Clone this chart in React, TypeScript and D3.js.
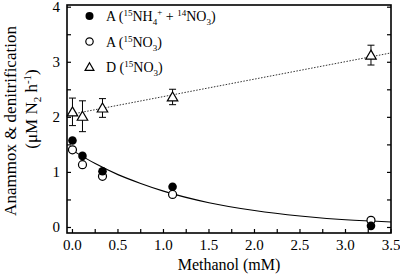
import React from "react";
import * as d3 from "d3";

const methanol = [0, 0.11, 0.33, 1.1, 3.28];
const anammoxNH4 = [1.58, 1.3, 1.02, 0.74, 0.03];
const anammoxNO3 = [1.41, 1.14, 0.93, 0.6, 0.13];
const denitNO3 = [2.1, 2.02, 2.17, 2.37, 3.13];
const denitErr = [0.25, 0.28, 0.17, 0.14, 0.18];

const fitX = [0, 0.25, 0.5, 0.75, 1.0, 1.5, 2.0, 2.5, 3.0, 3.5];
const fitY = [1.4, 1.16, 0.96, 0.8, 0.66, 0.45, 0.31, 0.21, 0.14, 0.1];
const trendX = [0, 3.5];
const trendY = [2.06, 3.17];

const xTicks = [0, 0.5, 1, 1.5, 2, 2.5, 3, 3.5];
const xMinor = d3.range(0, 3.5001, 0.25);
const yTicks = [0, 1, 2, 3, 4];
const yMinor = d3.range(0, 4.0001, 0.5);

const W = 400, H = 278;
const L = 67, R = 391, T = 5, B = 233;
const font = "'Liberation Serif', 'Times New Roman', serif";

export default function App() {
  const x = d3.scaleLinear().domain([-0.06, 3.5]).range([L, R]);
  const y = d3.scaleLinear().domain([-0.1, 4.04]).range([B, T]);
  const line = d3.line<number>().x((_, i) => x(fitX[i])).y((d) => y(d)).curve(d3.curveMonotoneX);
  const tri = (cx: number, cy: number, s = 5) =>
    `M${cx},${cy - s}L${cx + s * 1.05},${cy + s * 0.8}L${cx - s * 1.05},${cy + s * 0.8}Z`;
  const tick = 4;
  return (
    <svg width={W} height={H} style={{ position: "absolute", left: 0, top: 0, background: "#fff" }} fontFamily={font}>
      <rect x={0} y={0} width={W} height={H} fill="#fff" />
      {/* curves */}
      <path d={line(fitY) || ""} fill="none" stroke="#000" strokeWidth={1.1} />
      <line x1={x(trendX[0])} y1={y(trendY[0])} x2={x(trendX[1])} y2={y(trendY[1])}
        stroke="#333" strokeWidth={1} strokeDasharray="1.5,1.5" />
      {/* triangles with error bars */}
      {methanol.map((m, i) => {
        const cx = x(m), cy = y(denitNO3[i]);
        const t = y(denitNO3[i] + denitErr[i]), b = y(denitNO3[i] - denitErr[i]);
        return (
          <g key={"t" + i} stroke="#000" strokeWidth={1}>
            <line x1={cx} x2={cx} y1={t} y2={b} />
            <line x1={cx - 3.5} x2={cx + 3.5} y1={t} y2={t} />
            <line x1={cx - 3.5} x2={cx + 3.5} y1={b} y2={b} />
            <path d={tri(cx, cy)} fill="#fff" strokeWidth={1.2} />
          </g>
        );
      })}
      {methanol.map((m, i) => (
        <circle key={"o" + i} cx={x(m)} cy={y(anammoxNO3[i])} r={4} fill="#fff" stroke="#000" strokeWidth={1.2} />
      ))}
      {methanol.map((m, i) => (
        <circle key={"f" + i} cx={x(m)} cy={y(anammoxNH4[i])} r={4.3} fill="#000" />
      ))}
      {/* frame */}
      <rect x={L} y={T} width={R - L} height={B - T} fill="none" stroke="#000" strokeWidth={1.6} />
      {xMinor.map((v) => (
        <line key={"xt" + v} x1={x(v)} x2={x(v)} y1={B} y2={B - tick} stroke="#000" strokeWidth={1.2} />
      ))}
      {yMinor.map((v) => (
        <g key={"yt" + v} stroke="#000" strokeWidth={1.2}>
          <line x1={L} x2={L + tick} y1={y(v)} y2={y(v)} />
          <line x1={R} x2={R - tick} y1={y(v)} y2={y(v)} />
        </g>
      ))}
      {xTicks.map((v) => (
        <text key={"xl" + v} x={x(v)} y={250} textAnchor="middle" fontSize={15}>{v.toFixed(1)}</text>
      ))}
      {yTicks.map((v) => (
        <text key={"yl" + v} x={60} y={y(v) + 5} textAnchor="end" fontSize={15}>{v}</text>
      ))}
      <text x={229} y={270} textAnchor="middle" fontSize={16}>Methanol (mM)</text>
      <text transform={`translate(16,121) rotate(-90)`} textAnchor="middle" fontSize={17}>Anammox &amp; denitrification</text>
      <text transform={`translate(37,109) rotate(-90)`} textAnchor="middle" fontSize={17}>
        (μM N<tspan fontSize={11} dy={4}>2</tspan><tspan dy={-4}> h</tspan><tspan fontSize={11} dy={-6}>-1</tspan><tspan dy={6}>)</tspan>
      </text>
      {/* legend */}
      <circle cx={89.5} cy={16} r={4} fill="#000" />
      <text x={106} y={21} fontSize={14}>
        A (<tspan fontSize={9} dy={-5}>15</tspan><tspan dy={5}>NH</tspan><tspan fontSize={9} dy={4}>4</tspan><tspan fontSize={9} dy={-10}>+</tspan><tspan dy={6}> + </tspan><tspan fontSize={9} dy={-5}>14</tspan><tspan dy={5}>NO</tspan><tspan fontSize={9} dy={4}>3</tspan><tspan dy={-4}>)</tspan>
      </text>
      <circle cx={89.5} cy={41.5} r={3.7} fill="#fff" stroke="#000" strokeWidth={1.2} />
      <text x={106} y={46.5} fontSize={14}>
        A (<tspan fontSize={9} dy={-5}>15</tspan><tspan dy={5}>NO</tspan><tspan fontSize={9} dy={4}>3</tspan><tspan dy={-4}>)</tspan>
      </text>
      <path d={tri(89.5, 67, 4.2)} fill="#fff" stroke="#000" strokeWidth={1.2} />
      <text x={106} y={72} fontSize={14}>
        D (<tspan fontSize={9} dy={-5}>15</tspan><tspan dy={5}>NO</tspan><tspan fontSize={9} dy={4}>3</tspan><tspan dy={-4}>)</tspan>
      </text>
    </svg>
  );
}
